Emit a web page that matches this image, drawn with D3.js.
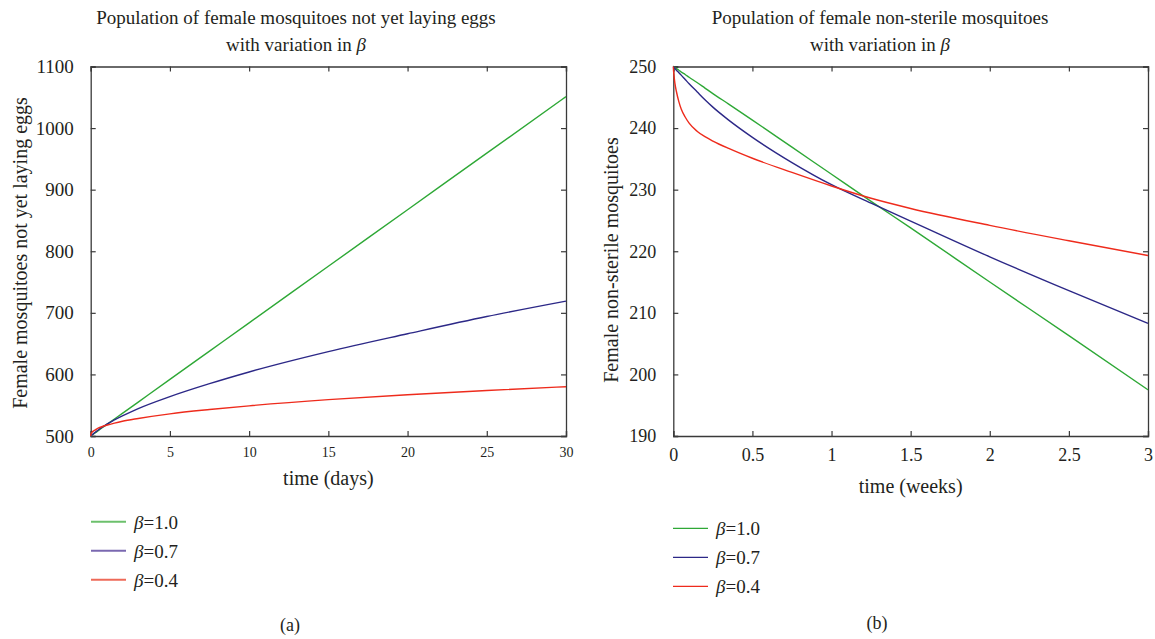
<!DOCTYPE html>
<html>
<head>
<meta charset="utf-8">
<script src="https://cdn.jsdelivr.net/npm/d3@7"></script>
<style>
  html, body { margin: 0; padding: 0; background: #fff; }
  svg text { font-family: "Liberation Serif", "Times New Roman", serif; fill: #231f20; }
</style>
</head>
<body>
<svg id="chart" width="1155" height="639"></svg>
<script>
// ---------- data ----------
const seriesNames = ["1.0", "0.7", "0.4"];

// Panel (a): female mosquitoes not yet laying eggs, time in days
const timeDays = [0, 0.02, 0.05, 0.1, 0.2, 0.3, 0.5, 0.7, 1.0, 1.5, 2, 3, 5, 7.5, 10, 15, 20, 25, 30];
const eggsBeta10 = [500, 500.4, 500.9, 501.8, 503.7, 505.5, 509.2, 512.9, 518.4, 527.6, 536.7, 555.1, 591.9, 637.8, 683.7, 775.6, 867.4, 959.3, 1051];
const eggsBeta07 = [500, 500.45, 501.1, 502.2, 504.3, 506.3, 510.2, 513.9, 519, 526, 532.5, 544.5, 564, 585, 604, 637, 666, 694, 719];
const eggsBeta04 = [500, 503, 505, 506.5, 508.5, 510, 513, 515, 517.5, 521, 524, 528.5, 536, 543, 549, 559, 567, 574, 580];
const daysTicks = [0, 5, 10, 15, 20, 25, 30];
const eggsTicks = [500, 600, 700, 800, 900, 1000, 1100];

// Panel (b): female non-sterile mosquitoes, time in weeks
const timeWeeks = [0, 0.002, 0.005, 0.01, 0.02, 0.035, 0.05, 0.075, 0.1, 0.15, 0.2, 0.25, 0.35, 0.5, 0.75, 1.0, 1.25, 1.5, 2.0, 2.5, 3.0];
const fertBeta10 = [250, 250, 249.9, 249.8, 249.65, 249.4, 249.1, 248.7, 248.25, 247.4, 246.5, 245.6, 243.9, 241.3, 236.9, 232.5, 228.1, 223.8, 215.0, 206.3, 197.5];
const fertBeta07 = [250, 249.93, 249.85, 249.7, 249.4, 249.0, 248.6, 247.9, 247.2, 245.9, 244.6, 243.4, 241.3, 238.5, 234.4, 230.8, 227.8, 224.9, 219.1, 213.6, 208.3];
const fertBeta04 = [250, 249.2, 248.4, 247.3, 245.9, 244.3, 243.1, 241.8, 240.8, 239.5, 238.6, 237.9, 236.7, 235.1, 232.8, 230.6, 228.6, 226.95, 224.2, 221.7, 219.3];
const weeksTicks = [0, 0.5, 1, 1.5, 2, 2.5, 3];
const fertTicks = [190, 200, 210, 220, 230, 240, 250];

const lineColors = ["#2ea836", "#2c2887", "#ee2b1c"];
const legendColorsA = ["#6cc06c", "#7a68b0", "#ee6a58"];

// ---------- drawing ----------
const svg = d3.select("#chart");

function drawPanel(cfg) {
  const x = d3.scaleLinear().domain(cfg.xDomain).range([cfg.left, cfg.right]);
  const y = d3.scaleLinear().domain(cfg.yDomain).range([cfg.bottom, cfg.top]);
  const g = svg.append("g");
  const axisColor = "#3a3a3a";
  const tl = 5;

  // frame axes (ticks inward on all four sides)
  const bottomAxis = d3.axisBottom(x).tickValues(cfg.xTicks).tickSize(-tl).tickPadding(tl + cfg.xTickPad).tickFormat(d3.format(""));
  const topAxis = d3.axisTop(x).tickValues(cfg.xTicks).tickSize(-tl).tickFormat("");
  const leftAxis = d3.axisLeft(y).tickValues(cfg.yTicks).tickSize(-tl).tickPadding(tl + cfg.yTickPad).tickFormat(d3.format(""));
  const rightAxis = d3.axisRight(y).tickValues(cfg.yTicks).tickSize(-tl).tickFormat("");

  const gb = g.append("g").attr("transform", `translate(0,${cfg.bottom})`).call(bottomAxis);
  const gt = g.append("g").attr("transform", `translate(0,${cfg.top})`).call(topAxis);
  const gl = g.append("g").attr("transform", `translate(${cfg.left},0)`).call(leftAxis);
  const gr = g.append("g").attr("transform", `translate(${cfg.right},0)`).call(rightAxis);
  [gb, gt, gl, gr].forEach(a => {
    a.attr("font-family", null);
    a.select(".domain").attr("stroke", axisColor).attr("stroke-width", 1.3);
    a.selectAll(".tick line").attr("stroke", axisColor).attr("stroke-width", 1.2);
    a.selectAll(".tick text").attr("fill", "#231f20").style("font-family", '"Liberation Serif", serif');
  });
  gb.selectAll(".tick text").style("font-size", cfg.xTickFont + "px");
  gl.selectAll(".tick text").style("font-size", cfg.yTickFont + "px");

  // curves
  const line = d3.line()
    .x(d => x(d[0])).y(d => y(d[1]))
    .curve(d3.curveMonotoneX);
  cfg.series.forEach((vals, i) => {
    const pts = cfg.time.map((t, k) => [t, vals[k]]);
    g.append("path").datum(pts)
      .attr("d", line)
      .attr("fill", "none")
      .attr("stroke", lineColors[i])
      .attr("stroke-width", 1.4);
  });

  // title
  const cx = cfg.titleX;
  g.append("text").attr("x", cx).attr("y", cfg.titleY1).attr("text-anchor", "middle")
    .style("font-size", cfg.titleFont + "px").text(cfg.title1);
  const t2 = g.append("text").attr("x", cx).attr("y", cfg.titleY2).attr("text-anchor", "middle")
    .style("font-size", cfg.titleFont + "px");
  t2.append("tspan").text("with variation in ");
  t2.append("tspan").style("font-style", "italic").text("β");

  // axis labels
  g.append("text").attr("x", (cfg.left + cfg.right) / 2).attr("y", cfg.xLabelY)
    .attr("text-anchor", "middle").style("font-size", cfg.labelFont + "px").text(cfg.xLabel);
  g.append("text")
    .attr("transform", `translate(${cfg.yLabelX},${cfg.yLabelCY}) rotate(-90)`)
    .attr("text-anchor", "middle").style("font-size", cfg.labelFont + "px").text(cfg.yLabel);

  // legend
  const lg = g.append("g");
  seriesNames.forEach((name, i) => {
    const ly = cfg.legendY + i * cfg.legendGap;
    lg.append("line").attr("x1", cfg.legendX).attr("x2", cfg.legendX + cfg.legendLen)
      .attr("y1", ly).attr("y2", ly)
      .attr("stroke", cfg.legendColors[i]).attr("stroke-width", cfg.legendStroke);
    const tx = lg.append("text").attr("x", cfg.legendX + cfg.legendLen + 8).attr("y", ly + 7)
      .style("font-size", cfg.legendFont + "px");
    tx.append("tspan").style("font-style", "italic").text("β");
    tx.append("tspan").text("=" + name);
  });

  // panel tag
  g.append("text").attr("x", cfg.tagX).attr("y", cfg.tagY).attr("text-anchor", "middle")
    .style("font-size", "18px").text(cfg.tag);
}

drawPanel({
  left: 90.7, right: 566, top: 66.5, bottom: 436,
  xDomain: [0, 30], yDomain: [500, 1100],
  xTicks: daysTicks, yTicks: eggsTicks,
  xTickPad: 6, yTickPad: 12, xTickFont: 14, yTickFont: 19,
  time: timeDays, series: [eggsBeta10, eggsBeta07, eggsBeta04],
  title1: "Population of female mosquitoes not yet laying eggs",
  titleX: 296, titleY1: 24, titleY2: 51, titleFont: 19,
  xLabel: "time (days)", xLabelY: 485,
  yLabel: "Female mosquitoes not yet laying eggs", yLabelX: 27, yLabelCY: 253,
  labelFont: 20,
  legendX: 91, legendLen: 35, legendY: 521.7, legendGap: 29,
  legendColors: legendColorsA, legendStroke: 2, legendFont: 19,
  tag: "(a)", tagX: 290, tagY: 631
});

drawPanel({
  left: 673.3, right: 1148, top: 66.5, bottom: 436,
  xDomain: [0, 3], yDomain: [190, 250],
  xTicks: weeksTicks, yTicks: fertTicks,
  xTickPad: 7, yTickPad: 12, xTickFont: 18, yTickFont: 18,
  time: timeWeeks, series: [fertBeta10, fertBeta07, fertBeta04],
  title1: "Population of female non-sterile mosquitoes",
  titleX: 880, titleY1: 24, titleY2: 51, titleFont: 19,
  xLabel: "time (weeks)", xLabelY: 493,
  yLabel: "Female non-sterile mosquitoes", yLabelX: 618, yLabelCY: 260,
  labelFont: 20,
  legendX: 673, legendLen: 35, legendY: 528.3, legendGap: 29,
  legendColors: lineColors, legendStroke: 1.3, legendFont: 19,
  tag: "(b)", tagX: 877, tagY: 629
});
</script>
</body>
</html>
